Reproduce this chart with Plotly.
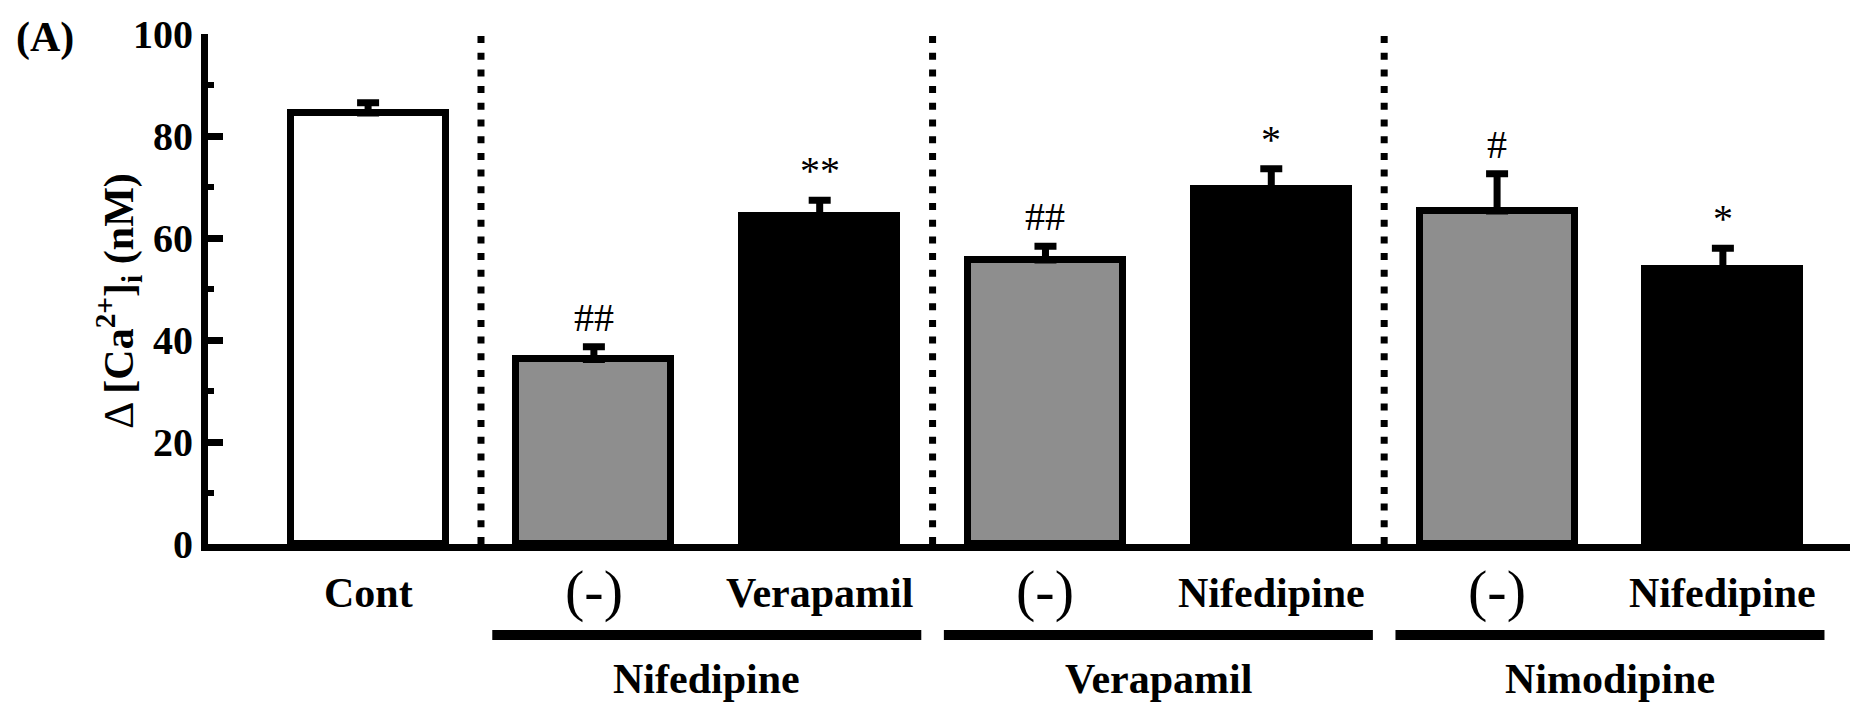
import plotly.graph_objects as go

# ---- data -------------------------------------------------------------
bar_labels = ["Cont", "(-)", "Verapamil", "(-)", "Nifedipine", "(-)", "Nifedipine"]
delta_ca = [84.5, 36.2, 64.3, 55.7, 69.7, 65.3, 53.9]      # mean Δ[Ca2+]i, nM
delta_ca_sem = [2.0, 2.5, 3.1, 2.7, 3.9, 7.3, 4.1]         # SEM, nM
sig_marks = ["", "##", "**", "##", "*", "#", "*"]
bar_kind = ["control", "alone", "combo", "alone", "combo", "alone", "combo"]
group_names = ["Nifedipine", "Verapamil", "Nimodipine"]
group_members = [(1, 2), (3, 4), (5, 6)]
y_ticks = [0, 20, 40, 60, 80, 100]

# ---- styling ----------------------------------------------------------
FONT = "Liberation Serif"
GRAY = "#8e8e8e"
kind_fill = {"control": "white", "alone": GRAY, "combo": "black"}

W, H = 1873, 711
L, R, T, B = 208, 23, 28, 167
PW, PH = W - L - R, H - T - B


def paper_x(px):
    return (px - L) / PW


def paper_y(py):
    return (H - B - py) / PH


xpos = list(range(len(delta_ca)))

fig = go.Figure(
    go.Bar(
        x=xpos,
        y=delta_ca,
        width=0.686,
        marker=dict(color=[kind_fill[k] for k in bar_kind],
                    line=dict(color="black", width=7)),
        error_y=dict(type="data", symmetric=False, array=delta_ca_sem,
                     arrayminus=[0] * len(delta_ca), thickness=7, width=11,
                     color="black"),
        hoverinfo="skip",
    )
)

annotations = []

# significance marks above the error bars
for i, (m, s, mk) in enumerate(zip(delta_ca, delta_ca_sem, sig_marks)):
    if mk:
        annotations.append(dict(x=i, y=m + s, xref="x", yref="y", text=mk,
                                showarrow=False, yanchor="bottom", yshift=5,
                                font=dict(family=FONT, size=40, color="black")))

# per-bar labels under the axis
for i, lab in enumerate(bar_labels):
    if lab == "(-)":
        annotations.append(dict(x=i, y=paper_y(591), xref="x", yref="paper",
                                text=lab, showarrow=False, yanchor="middle",
                                font=dict(family=FONT, size=58, color="black")))
    else:
        annotations.append(dict(x=i, y=paper_y(594), xref="x", yref="paper",
                                text=f"<b>{lab}</b>", showarrow=False,
                                yanchor="middle",
                                font=dict(family=FONT, size=42, color="black")))

shapes = []
for name, (a, b) in zip(group_names, group_members):
    # bracket line under each treatment group
    shapes.append(dict(type="line", xref="x", yref="paper",
                       x0=a - 0.45, x1=b + 0.45,
                       y0=paper_y(636), y1=paper_y(636),
                       line=dict(color="black", width=10)))
    annotations.append(dict(x=(a + b) / 2, y=paper_y(681), xref="x",
                            yref="paper", text=f"<b>{name}</b>",
                            showarrow=False, yanchor="middle",
                            font=dict(family=FONT, size=42, color="black")))
    # dotted separator before each group
    shapes.append(dict(type="line", xref="x", yref="y",
                       x0=a - 0.5, x1=a - 0.5, y0=0, y1=100,
                       line=dict(color="black", width=7, dash="7px,9.7px")))

# panel letter
annotations.append(dict(x=paper_x(45), y=paper_y(32), xref="paper",
                        yref="paper", text="<b>(A)</b>", showarrow=False,
                        xanchor="center", yanchor="middle",
                        font=dict(family=FONT, size=42, color="black")))

# y-axis title
annotations.append(dict(x=paper_x(118), y=paper_y(298), xref="paper",
                        yref="paper", textangle=-90,
                        text="Δ <b>[Ca<sup>2+</sup>]<sub>i</sub> (nM)</b>",
                        showarrow=False, xanchor="center", yanchor="middle",
                        font=dict(family=FONT, size=42, color="black")))

fig.update_layout(
    width=W, height=H,
    margin=dict(l=L, r=R, t=T, b=B, pad=0),
    plot_bgcolor="white", paper_bgcolor="white",
    showlegend=False,
    bargap=0,
    xaxis=dict(range=[-0.709, 6.563], showline=True, linewidth=7,
               linecolor="black", showticklabels=False, ticks="",
               showgrid=False, zeroline=False, fixedrange=True),
    yaxis=dict(range=[0, 100], tickvals=y_ticks, ticks="inside",
               ticklen=15, tickwidth=7, tickcolor="black",
               showline=True, linewidth=7, linecolor="black",
               showgrid=False, zeroline=False, fixedrange=True,
               tickfont=dict(family=FONT, size=40, color="black",
                             weight="bold"),
               minor=dict(ticks="inside", ticklen=6, tickwidth=6,
                          tickcolor="black", dtick=10, tick0=0,
                          showgrid=False)),
    annotations=annotations,
    shapes=shapes,
)

fig.write_html("out.html")
